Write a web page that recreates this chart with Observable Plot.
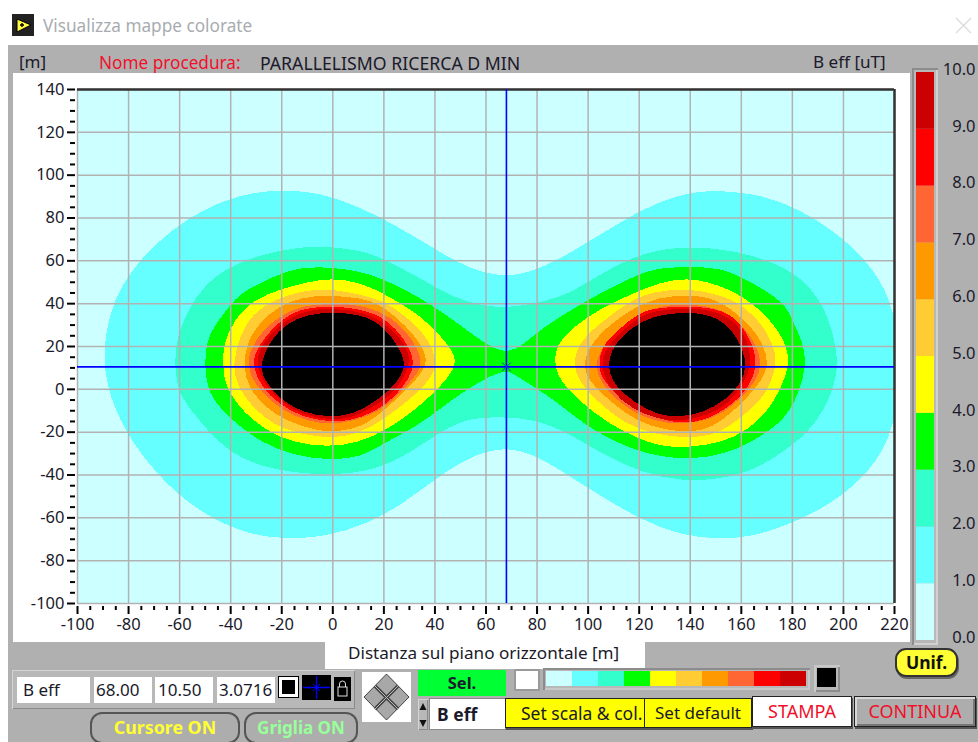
<!DOCTYPE html>
<html lang="it">
<head>
<meta charset="utf-8">
<title>Visualizza mappe colorate</title>
<script src="https://cdn.jsdelivr.net/npm/d3@7"></script>
<script src="https://cdn.jsdelivr.net/npm/@observablehq/plot@0.6"></script>
<style>
html,body{margin:0;padding:0;width:978px;height:742px;overflow:hidden;background:#fff;font-family:"Noto Sans",sans-serif;color:#1a1a2a}
#app{position:relative;width:978px;height:742px;overflow:hidden}
#app div{position:absolute;box-sizing:border-box;white-space:nowrap}
.field{background:#fff;font-size:17px;line-height:26px;padding-left:5px}
.bevel{background:#b8b8b8;box-shadow:inset 1px 1px 0 #d4d4d4,inset -1px -1px 0 #8a8a8a}
.btn{font-size:17px;text-align:center;line-height:28px;border:1px solid #222;box-shadow:1px 2px 0 #555}
.oval{border:2px solid #555;border-radius:12px;text-align:center;font-weight:700;font-size:16px;line-height:27px;background:#adadad}
svg{display:block}
</style>
</head>
<body>
<div id="app">
  <div style="left:8px;top:45px;width:970px;height:697px;background:#b0b0b0"></div>
  <svg style="position:absolute;left:12px;top:14px" width="22" height="22" viewBox="0 0 22 22"><rect width="22" height="22" fill="#222"/><path d="M5 5 L19 11 L5 18Z" fill="#ffff44" stroke="#000"/><path d="M8 11h4M10 9v4" stroke="#000" stroke-width="1.4"/></svg>
  <div style="left:43px;top:14px;font-size:17.2px;line-height:24px;color:#a8acb0">Visualizza mappe colorate</div>
  <svg style="position:absolute;left:955px;top:17px" width="17" height="17"><path d="M1 1L16 16M16 1L1 16" stroke="#dcdcdc" stroke-width="1.4"/></svg>

  <div style="left:13px;top:73px;width:897px;height:569px;background:#fff"></div>
  <div style="left:325px;top:642px;width:320px;height:27px;background:#fff"></div>
  <div style="left:19px;top:50px;font-size:17px;line-height:24px">[m]</div>
  <div style="left:99px;top:51px;font-size:17.2px;line-height:24px;color:#f0102a">Nome procedura:</div>
  <div style="left:260px;top:51px;font-size:17.7px;line-height:24px">PARALLELISMO RICERCA D MIN</div>
  <div style="left:813px;top:50px;font-size:17.1px;line-height:24px">B eff [uT]</div>
  <div style="left:348px;top:641px;font-size:17.1px;line-height:24px">Distanza sul piano orizzontale [m]</div>

  <div id="main" style="left:13px;top:73px"></div>

  <div class="bevel" style="left:912px;top:68px;width:26px;height:577px;box-shadow:inset 2px 2px 0 #8c8c8c,inset -2px -2px 0 #d0d0d0"></div>
  <div id="bar" style="left:905px;top:60px"></div>

  <div class="oval" style="left:895px;top:648px;width:63px;height:29px;background:#ffff33;border-color:#333;border-radius:11px;box-shadow:1px 2px 0 #666;color:#111;font-size:17.5px;line-height:25px">Unif.</div>

  <div class="bevel" style="left:12px;top:670px;width:343px;height:39px"></div>
  <div class="field" style="left:17px;top:677px;width:73px;height:26px;padding-left:6px">B eff</div>
  <div class="field" style="left:94px;top:677px;width:58px;height:26px;padding-left:2px">68.00</div>
  <div class="field" style="left:155px;top:677px;width:58px;height:26px;padding-left:3px">10.50</div>
  <div class="field" style="left:217px;top:677px;width:58px;height:26px;padding-left:2px">3.0716</div>
  <div style="left:279px;top:677px;width:19px;height:20px;background:#000;border:3px solid #fff;outline:1px solid #000"></div>
  <svg style="position:absolute;left:302px;top:675px" width="29" height="25"><rect width="29" height="25" fill="#000"/><path d="M1 12.5H28M14.5 1V24" stroke="#0000ff" stroke-width="1.3"/><path d="M11 9l7 7M18 9l-7 7" stroke="#0000ff"/></svg>
  <svg style="position:absolute;left:334px;top:677px" width="17" height="24"><rect width="17" height="24" fill="#000"/><rect x="4" y="10" width="9" height="9" fill="none" stroke="#ddd"/><path d="M5.5 10V7a3 3 0 0 1 6 0v3" fill="none" stroke="#ddd"/></svg>

  <div class="oval" style="left:90px;top:712px;width:150px;height:32px;color:#ffff33;font-size:17.8px">Cursore ON</div>
  <div class="oval" style="left:244px;top:712px;width:114px;height:32px;color:#99ff99;font-size:17px">Griglia ON</div>

  <svg style="position:absolute;left:362px;top:672px" width="49" height="50"><rect width="49" height="50" fill="#fff"/><path d="M24.5 2L47 25L24.5 48L2 25Z" fill="#a8a8a8" stroke="#444"/><path d="M13 14L36 37M36 14L13 37" stroke="#444" stroke-width="3.5"/><path d="M13 14L36 37M36 14L13 37" stroke="#bbb" stroke-width="1"/></svg>

  <div style="left:418px;top:670px;width:88px;height:26px;background:#00ff33;text-align:center;font-weight:700;font-size:16.5px;line-height:25px">Sel.</div>
  <div class="bevel" style="left:418px;top:699px;width:10px;height:31px"></div>
  <svg style="position:absolute;left:418px;top:700px" width="10" height="30"><path d="M5 3L8.5 10H1.500Z M5 27L8.500 20H1.500Z" fill="#111"/></svg>
  <div class="field" style="left:430px;top:699px;width:75px;height:30px;font-weight:700;font-size:17.5px;line-height:30px;padding-left:7px;box-shadow:0 0 0 1px #888">B eff</div>

  <div style="left:514px;top:669px;width:26px;height:22px;background:#fff;box-shadow:inset 0 0 0 2px #9a9a9a"></div>
  <div class="bevel" style="left:543px;top:668px;width:267px;height:22px;box-shadow:inset 2px 2px 0 #8c8c8c,inset -2px -2px 0 #c8c8c8"></div>
  <div id="strip" style="left:546px;top:671px"></div>
  <div class="bevel" style="left:814px;top:665px;width:26px;height:27px;box-shadow:inset 2px 2px 0 #c8c8c8,inset -2px -2px 0 #8c8c8c"></div>
  <div style="left:817px;top:668px;width:19px;height:19px;background:#000"></div>

  <div class="btn" style="left:505px;top:698px;width:140px;height:30px;background:#ffff00;text-align:left;padding-left:15px;font-size:17.5px">Set scala &amp; col.</div>
  <div class="btn" style="left:644px;top:698px;width:108px;height:30px;background:#ffff00">Set default</div>
  <div class="btn" style="left:752px;top:696px;width:100px;height:31px;background:#fff;color:#f0102a;font-size:18px">STAMPA</div>
  <div class="btn" style="left:854px;top:696px;width:122px;height:31px;background:#adadad;color:#f0102a;font-size:18px;box-shadow:inset 2px 2px 0 #d8d8d8,inset -2px -2px 0 #777,1px 2px 0 #555">CONTINUA</div>
</div>

<script>
// Contours of B eff [uT] on the (distance, y) plane, in metres.
const contour_1 = [[-90,21],[-86,42],[-77,59],[-63,75],[-48,86],[-32,92],[-20,93],[-5,92],[11,85],[27,75],[42,64],[54,56],[68,52],[81,56],[95,65],[111,77],[126,87],[140,92],[150,93],[168,91],[183,84],[199,72],[213,55],[220,37],[223,11],[220,-19],[211,-38],[195,-54],[179,-63],[164,-69],[150,-70],[136,-68],[121,-61],[105,-50],[91,-39],[78,-30],[68,-27],[56,-30],[42,-40],[27,-54],[13,-63],[-3,-69],[-20,-70],[-36,-67],[-54,-56],[-69,-40],[-82,-19],[-89,2]];
const contour_2 = [[-62,14],[-61,24],[-57,37],[-50,49],[-41,57],[-28,63],[-15,66],[-5,67],[11,65],[20,61],[37,50],[47,43],[58,39],[68,38],[79,40],[92,44],[105,54],[121,64],[139,67],[157,65],[174,59],[186,50],[194,35],[197,20],[198,10],[195,-4],[188,-18],[178,-28],[165,-38],[151,-42],[137,-43],[121,-39],[105,-30],[92,-20],[79,-14],[68,-13],[54,-13],[43,-19],[30,-30],[16,-38],[0,-40],[-15,-39],[-28,-36],[-40,-30],[-50,-18],[-58,-6],[-61,1]];
const contour_3 = [[-50,20],[-47,29],[-39,41],[-35,46],[-19,55],[-11,57],[0,57],[11,55],[21,51],[37,41],[50,30],[61,20],[68,17],[74,20],[81,28],[100,42],[118,53],[128,57],[140,57],[151,57],[161,52],[177,41],[180,32],[185,20],[185,9],[183,0],[178,-13],[168,-22],[155,-30],[140,-33],[126,-31],[115,-27],[100,-18],[88,-6],[79,1],[71,7],[68,9],[61,6],[50,-2],[41,-10],[32,-18],[20,-25],[11,-32],[-2,-33],[-15,-31],[-28,-25],[-39,-15],[-48,-4],[-50,7]];
const contour_4_left = [[-43,10],[-43,21],[-39,32],[-31,42],[-20,47],[-10,50],[-1,52],[11,50],[21,44],[34,35],[43,24],[48,16],[48,10],[42,1],[32,-10],[21,-19],[10,-25],[-2,-27],[-15,-25],[-25,-20],[-35,-11],[-42,1]];
const contour_4_right = [[87,11],[87,20],[94,29],[105,38],[118,45],[128,50],[139,52],[147,50],[155,47],[165,40],[174,29],[179,17],[178,7],[172,-8],[163,-19],[152,-25],[140,-27],[131,-27],[121,-24],[108,-16],[97,-6],[89,4]];
const contour_5_left = [[-39,12],[-37,23],[-32,35],[-23,42],[-12,46],[-2,47],[8,45],[19,42],[29,34],[38,23],[41,12],[38,4],[30,-5],[20,-14],[10,-21],[-1,-23],[-12,-21],[-23,-17],[-32,-8],[-38,3]];
const contour_5_right = [[94,13],[97,23],[106,32],[117,42],[127,46],[139,47],[148,45],[157,42],[166,34],[173,21],[174,10],[169,-4],[160,-13],[151,-21],[139,-23],[126,-21],[114,-16],[104,-6],[96,4]];
const contour_6_left = [[-35,10],[-34,21],[-29,31],[-21,39],[-12,43],[-2,44],[6,43],[15,42],[24,35],[33,24],[37,15],[36,9],[29,0],[20,-10],[11,-18],[0,-20],[-7,-19],[-18,-15],[-27,-8],[-33,1]];
const contour_6_right = [[98,10],[100,20],[109,31],[118,38],[127,43],[139,44],[147,43],[153,40],[162,32],[169,21],[171,10],[166,1],[159,-8],[149,-18],[140,-20],[130,-19],[119,-15],[109,-6],[101,3]];
const contour_7_left = [[-33,10],[-33,17],[-28,27],[-20,35],[-12,39],[-2,40],[7,40],[18,37],[27,30],[34,18],[35,10],[30,3],[23,-6],[14,-13],[3,-16],[-5,-16],[-15,-13],[-24,-6],[-31,3]];
const contour_7_right = [[103,10],[104,17],[111,27],[119,35],[128,39],[140,40],[151,38],[159,32],[166,21],[168,12],[166,4],[160,-4],[151,-13],[140,-16],[131,-16],[121,-13],[112,-6],[105,3]];
const contour_8_left = [[-31,10],[-31,16],[-27,24],[-19,34],[-11,38],[0,39],[14,37],[23,31],[30,20],[32,12],[30,5],[24,-4],[16,-11],[6,-15],[-2,-15],[-12,-13],[-21,-7],[-28,1]];
const contour_8_right = [[104,10],[105,20],[112,28],[120,36],[127,38],[139,39],[148,38],[157,35],[164,23],[166,13],[165,6],[160,-4],[149,-13],[140,-16],[131,-15],[121,-11],[112,-4],[106,4]];
const contour_9_left = [[-30,11],[-29,17],[-26,24],[-18,33],[-10,37],[0,38],[13,36],[23,29],[30,18],[30,11],[26,1],[17,-8],[6,-14],[-2,-14],[-12,-12],[-20,-6],[-26,1]];
const contour_9_right = [[105,10],[106,18],[113,27],[120,34],[127,37],[139,38],[148,37],[157,33],[163,22],[164,11],[161,3],[155,-7],[147,-12],[137,-15],[127,-14],[117,-9],[109,-1]];
const contour_10_left = [[-28,13],[-25,22],[-18,31],[-10,35],[0,36],[10,35],[17,32],[23,25],[28,15],[28,9],[25,3],[19,-4],[8,-12],[-2,-13],[-11,-11],[-19,-6],[-24,0],[-28,7]];
const contour_10_right = [[108,16],[113,25],[121,32],[129,35],[139,36],[148,35],[156,29],[161,18],[162,10],[160,3],[154,-5],[145,-11],[136,-13],[127,-12],[118,-6],[111,1],[108,8]];

const levels = [0,1,2,3,4,5,6,7,8,9,10];
const levelColors = ["#ccffff","#66ffff","#33ffcc","#00ff00","#ffff00","#ffcc33","#ff9900","#ff6633","#ff0000","#cc0000","#000000"];
const xTicks = [-100,-80,-60,-40,-20,0,20,40,60,80,100,120,140,160,180,200,220];
const yTicks = [-100,-80,-60,-40,-20,0,20,40,60,80,100,120,140];
const cursor = {x: 68.00, y: 10.50, value: 3.0716};

const parts = [
  [1,contour_1],[2,contour_2],[3,contour_3],
  [4,contour_4_left],[4,contour_4_right],[5,contour_5_left],[5,contour_5_right],
  [6,contour_6_left],[6,contour_6_right],[7,contour_7_left],[7,contour_7_right],
  [8,contour_8_left],[8,contour_8_right],[9,contour_9_left],[9,contour_9_right],
  [10,contour_10_left],[10,contour_10_right]
];
const rows = parts.flatMap(([level, pts], part) => pts.map(([x, y]) => ({x, y, level, part})));
const minorX = d3.range(-100, 221, 5).filter(v => v % 20 !== 0);
const minorY = d3.range(-100, 141, 5).filter(v => v % 20 !== 0);
const textFont = {fontFamily: '"Noto Sans",sans-serif', fontSize: "16.500px", color: "#1a1a2a", background: "transparent", overflow: "visible"};

const main = Plot.plot({
  width: 897, height: 569,
  marginLeft: 64, marginRight: 16, marginTop: 16, marginBottom: 39,
  style: textFont,
  x: {domain: [-100, 220]},
  y: {domain: [-100, 140]},
  color: {type: "ordinal", domain: levels, range: levelColors},
  marks: [
    Plot.frame({fill: levelColors[0], stroke: "none"}),
    Plot.line(rows, {x: "x", y: "y", z: "part", fill: "level", stroke: "none", curve: "basis-closed", clip: true, shapeRendering: "crispEdges"}),
    Plot.ruleX(xTicks, {stroke: "#b2b2b2", strokeWidth: 1.5}),
    Plot.ruleY(yTicks, {stroke: "#b2b2b2", strokeWidth: 1.5}),
    Plot.ruleY([140], {stroke: "#333", strokeWidth: 2.5}),
    Plot.ruleX([220], {stroke: "#333", strokeWidth: 2.5}),
    Plot.ruleX([cursor.x], {stroke: "#0000ff", strokeWidth: 1.6}),
    Plot.ruleY([cursor.y], {stroke: "#0000ff", strokeWidth: 1.6}),
    Plot.dot([cursor], {x: "x", y: "y", symbol: "times", r: 4, stroke: "#0a3fd0", strokeWidth: 1}),
    Plot.axisX(xTicks, {anchor: "bottom", label: null, tickSize: 8, strokeWidth: 2, stroke: "#000", tickPadding: 4, dy: 3, tickFormat: d => String(d), fill: "#1a1a2a"}),
    Plot.axisX(minorX, {anchor: "bottom", label: null, tickSize: 4, strokeWidth: 2, stroke: "#000", dy: 3, text: null}),
    Plot.axisY(yTicks, {anchor: "left", label: null, tickSize: 8, strokeWidth: 2, stroke: "#000", tickPadding: 3, dx: -2, tickFormat: d => String(d), fill: "#1a1a2a"}),
    Plot.axisY(minorY, {anchor: "left", label: null, tickSize: 5, strokeWidth: 2, stroke: "#000", dx: -2, text: null})
  ]
});
document.getElementById("main").appendChild(main);

const bands = levels.slice(0, 10).map((v, i) => ({lo: v, hi: v + 1, color: levelColors[i]}));
const bar = Plot.plot({
  width: 73, height: 600,
  marginLeft: 11, marginRight: 3, marginTop: 12, marginBottom: 20,
  style: textFont,
  x: {domain: [0, 1], range: [11, 29], axis: null},
  y: {domain: [0, 10], axis: null},
  marks: [
    Plot.rect(bands, {x1: 0, x2: 1, y1: "lo", y2: "hi", fill: "color"}),
    Plot.text(levels, {y: d => d, text: d => d.toFixed(1), frameAnchor: "right", textAnchor: "end", dy: -3, fill: "#1a1a2a"})
  ]
});
document.getElementById("bar").appendChild(bar);

const strip = Plot.plot({
  width: 260, height: 15,
  margin: 0,
  style: {background: "transparent"},
  x: {type: "band", domain: levels.slice(0, 10), padding: 0, axis: null},
  y: {domain: [0, 1], axis: null},
  marks: [Plot.barY(bands, {x: "lo", y1: 0, y2: 1, fill: "color"})]
});
document.getElementById("strip").appendChild(strip);
</script>
</body>
</html>
